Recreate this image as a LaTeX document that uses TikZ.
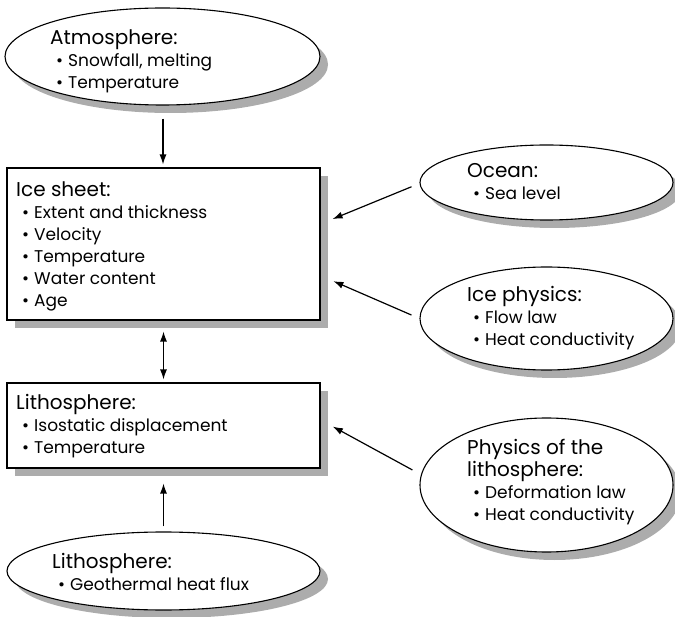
\documentclass[tikz,border=0pt]{standalone}
\usepackage{fontspec}
\setmainfont{Poppins}
\usetikzlibrary{shapes.geometric,arrows.meta}
\definecolor{shadowgray}{RGB}{172,172,172}
\newcommand{\bul}{\hspace*{6pt}\textbullet\hspace{5pt}}
\newcommand{\ttl}[1]{\hbox{\fontsize{20}{22}\selectfont #1}}
\begin{document}
\begin{tikzpicture}[x=1pt,y=-1pt,
  ell/.style={ellipse,draw,line width=1.1pt,fill=white,inner sep=0pt},
  box/.style={rectangle,draw,line width=1.1pt,fill=white,inner sep=0pt},
  shadowfill/.style={fill=shadowgray},
  txt/.style={anchor=base west,inner sep=0pt,font={\fontsize{17}{22}\selectfont}},
  arr/.style={line width=1.2pt,-{Latex[length=10pt,width=7pt]}},
  darr/.style={line width=1.2pt,{Latex[length=10pt,width=7pt]}-{Latex[length=10pt,width=7pt]}}]
\useasboundingbox (0,0) rectangle (675,617);
% shadows (drawn first, behind the shapes)
\fill[shadowfill] (170.5,64.5) ellipse [x radius=157.5, y radius=48.5];
\fill[shadowfill] (15,176) rectangle (328,328);
\fill[shadowfill] (15,391) rectangle (328,476);
\fill[shadowfill] (171.5,579) ellipse [x radius=156.5, y radius=39];
\fill[shadowfill] (554.5,190.5) ellipse [x radius=126.5, y radius=37.5];
\fill[shadowfill] (554.5,326.5) ellipse [x radius=126.5, y radius=51.5];
\fill[shadowfill] (554.5,493) ellipse [x radius=126.5, y radius=67];
% shapes
\node[ell,minimum width=315pt,minimum height=97pt] (atm) at (162.5,56.5) {};
\node[box,minimum width=313pt,minimum height=152pt] (ice) at (163.5,244) {};
\node[box,minimum width=313pt,minimum height=85pt] (lith) at (163.5,425.5) {};
\node[ell,minimum width=313pt,minimum height=78pt] (geo) at (163.5,571) {};
\node[ell,minimum width=253pt,minimum height=75pt] (ocean) at (546.5,182.5) {};
\node[ell,minimum width=253pt,minimum height=103pt] (iphys) at (546.5,318.5) {};
\node[ell,minimum width=253pt,minimum height=134pt] (lphys) at (546.5,485) {};
% texts
\node[txt] (atmT) at (50,45) {\vtop{\ttl{Atmosphere:}\hbox{\bul Snowfall, melting}\hbox{\bul Temperature}}};
\node[txt] (iceT) at (16,197) {\vtop{\ttl{Ice sheet:}\hbox{\bul Extent and thickness}\hbox{\bul Velocity}\hbox{\bul Temperature}\hbox{\bul Water content}\hbox{\bul Age}}};
\node[txt] (lithT) at (16,410) {\vtop{\ttl{Lithosphere:}\hbox{\bul Isostatic displacement}\hbox{\bul Temperature}}};
\node[txt] (geoT) at (52,568) {\vtop{\ttl{Lithosphere:}\hbox{\bul Geothermal heat flux}}};
\node[txt] (oceanT) at (467,178) {\vtop{\ttl{Ocean:}\hbox{\bul Sea level}}};
\node[txt] (iphysT) at (467,302) {\vtop{\ttl{Ice physics:}\hbox{\bul Flow law}\hbox{\bul Heat conductivity}}};
\node[txt] (lphysT) at (467,455) {\vtop{\ttl{Physics of the}\ttl{lithosphere:}\hbox{\bul Deformation law}\hbox{\bul Heat conductivity}}};
% connectors
\draw[arr,shorten <=13pt,shorten >=3pt] ([xshift=0.5pt]atm.south) -- ([xshift=-0.5pt]ice.north);
\draw[darr,shorten <=11pt,shorten >=3pt] (ice.south) -- (lith.north);
\draw[arr,shorten <=5pt,shorten >=15pt] (geo.north) -- (lith.south);
\draw[arr,shorten <=8.6pt,shorten >=13pt] ([yshift=-1pt]ocean.west) -- ([yshift=20pt]ice.east);
\draw[arr,shorten <=8.7pt,shorten >=14pt] (iphys.west) -- ([yshift=-31.6pt]ice.east);
\draw[arr,shorten <=8pt,shorten >=14pt] ([yshift=11.2pt]lphys.west) -- ([yshift=5.6pt]lith.east);
\end{tikzpicture}
\end{document}
